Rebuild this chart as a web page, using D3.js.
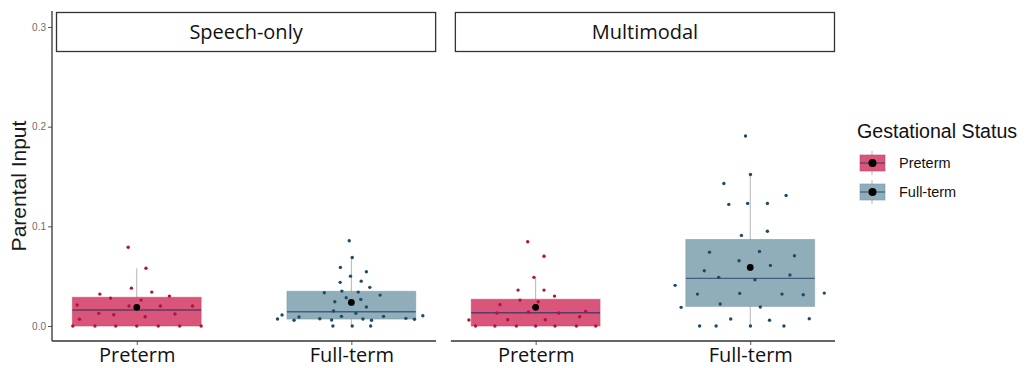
<!DOCTYPE html>
<html>
<head>
<meta charset="utf-8">
<script src="https://cdn.jsdelivr.net/npm/d3@7"></script>
<style>
  body { margin: 0; background: #fff; }
  svg { display: block; }
</style>
</head>
<body>
<svg id="chart" width="1027" height="368"></svg>
<script>
// facets, groups and ticks
var conditions = ["Speech-only", "Multimodal"];
var groups = ["Preterm", "Full-term"];
var yTicks = [0, 0.1, 0.2, 0.3];

// box stats: [q1, median, q3, whiskerLow, whiskerHigh, mean]
var speechPretermBox  = [0, 0.016, 0.0288, 0, 0.058, 0.0187];
var speechFulltermBox = [0.007, 0.0143, 0.0348, 0, 0.0688, 0.0237];
var multiPretermBox   = [0, 0.0133, 0.0268, 0, 0.0488, 0.0187];
var multiFulltermBox  = [0.0197, 0.0478, 0.0868, 0, 0.152, 0.0588];

// jittered points (value, horizontal jitter in category steps)
var speechPretermValues = [0.079, 0.058, 0.038, 0.034, 0.032, 0.028, 0.030, 0.026, 0.021, 0.020, 0.020, 0.020,
  0.0127, 0.0113, 0.012, 0.0093, 0.0067, 0, 0, 0, 0, 0, 0, 0];
var speechPretermJitter = [-0.040, 0.043, -0.025, 0.070, -0.172, -0.122, 0.152, 0.020, -0.278, -0.036, 0.110, 0.260,
  -0.177, -0.107, 0.178, 0.039, -0.267, -0.298, -0.195, -0.098, 0, 0.10, 0.20, 0.30];

var speechFulltermValues = [0.0855, 0.0688, 0.0588, 0.0544, 0.050, 0.045, 0.0438, 0.0388, 0.035, 0.034, 0.0334, 0.031,
  0.0284, 0.0267, 0.0244, 0.019, 0.015, 0.0127, 0.011, 0.0103, 0.0097, 0.009, 0.0097, 0.007, 0.0057, 0.0073,
  0.006, 0.007, 0.0057, 0.0077, 0.0067, 0, 0, 0];
var speechFulltermJitter = [-0.010, 0.004, -0.051, 0.070, -0.004, 0.046, -0.052, 0.086, -0.044, 0.032, -0.126, 0.134,
  -0.024, 0.044, -0.077, 0.070, -0.083, 0.021, -0.323, 0.333, -0.046, -0.244, 0.150, -0.344, -0.267, -0.147,
  -0.092, 0.054, 0.094, 0.254, 0.294, -0.086, 0.004, 0.090];

var multiPretermValues = [0.0845, 0.070, 0.0488, 0.036, 0.036, 0.030, 0.026, 0.0214, 0.0244, 0.013, 0.014, 0.013,
  0.0147, 0.0093, 0.0063, 0.0063, 0.006, 0, 0, 0, 0, 0, 0, 0];
var multiPretermJitter = [-0.037, 0.039, -0.008, -0.082, 0.039, 0.088, -0.073, -0.166, 0.012, -0.181, -0.034, 0.108,
  0.233, 0.205, -0.130, 0.045, -0.311, -0.28, -0.19, -0.09, 0, 0.09, 0.19, 0.28];

var multiFulltermValues = [0.1907, 0.152, 0.143, 0.131, 0.122, 0.123, 0.123, 0.095, 0.0909, 0.0741, 0.0748, 0.0705,
  0.0655, 0.0608, 0.0554, 0.0511, 0.0488, 0.0464, 0.0408, 0.032, 0.0327, 0.032, 0.0314, 0.033, 0.022, 0.019,
  0.0187, 0.007, 0.0057, 0.0073, 0, 0, 0, 0];
var multiFulltermJitter = [-0.022, 0.001, -0.123, 0.167, -0.100, -0.012, 0.080, 0.080, -0.041, -0.190, 0.043, 0.206,
  -0.052, 0.094, -0.214, 0.185, -0.147, 0.022, -0.350, -0.246, -0.049, 0.148, 0.247, 0.345, -0.140, 0.047,
  -0.322, -0.091, 0.090, 0.275, -0.236, -0.159, 0.001, 0.157];

var fillColor = { "Preterm": "#d9557a", "Full-term": "#90adba" };
var pointColor = { "Preterm": "#b3123f", "Full-term": "#1f4b66" };
var medianColor = { "Preterm": "#5e3a66", "Full-term": "#3f5f80" };

var cells = [
  { cond: "Speech-only", group: "Preterm", box: speechPretermBox, values: speechPretermValues, jitter: speechPretermJitter },
  { cond: "Speech-only", group: "Full-term", box: speechFulltermBox, values: speechFulltermValues, jitter: speechFulltermJitter },
  { cond: "Multimodal", group: "Preterm", box: multiPretermBox, values: multiPretermValues, jitter: multiPretermJitter },
  { cond: "Multimodal", group: "Full-term", box: multiFulltermBox, values: multiFulltermValues, jitter: multiFulltermJitter }
];

var svg = d3.select("#chart");

// layout
var plotLeft = 52, plotRight = 835, plotTop = 11, plotBottom = 341;
var facet = d3.scaleBand().domain(conditions).range([plotLeft, plotRight]).paddingInner(0.037);
var x = d3.scalePoint().domain(groups).range([0, facet.bandwidth()]).padding(0.395);
var step = x.step();
var boxWidth = 0.6 * step;

var y = d3.scaleLinear().domain([0, 0.3]).range([326, 27]);

// y axis
var yAxis = svg.append("g")
    .attr("transform", "translate(" + plotLeft + ",0)")
    .call(d3.axisLeft(y).tickValues(yTicks).tickFormat(d3.format(".1f")).tickSize(4).tickPadding(2));
yAxis.select(".domain").remove();
yAxis.selectAll(".tick line").attr("stroke", "#555");
yAxis.selectAll(".tick text")
    .attr("fill", "#6e6e6e")
    .style("font-family", "Liberation Sans, Arial, sans-serif")
    .style("font-size", "10px");
svg.append("line")
    .attr("x1", plotLeft).attr("x2", plotLeft)
    .attr("y1", plotTop).attr("y2", plotBottom)
    .attr("stroke", "#333").attr("stroke-width", 1.3);

svg.append("text")
    .attr("transform", "translate(26," + ((plotTop + plotBottom) / 2 + 10) + ") rotate(-90)")
    .attr("text-anchor", "middle")
    .style("font-family", "Liberation Sans, Arial, sans-serif")
    .style("font-size", "21px")
    .attr("fill", "#1a1a1a")
    .text("Parental Input");

// panels
conditions.forEach(function (cond) {
    var px = facet(cond);
    var g = svg.append("g").attr("transform", "translate(" + px + ",0)");

    // x axis
    var xa = g.append("g")
        .attr("transform", "translate(0," + plotBottom + ")")
        .call(d3.axisBottom(x).tickSize(4).tickPadding(3));
    xa.select(".domain").remove();
    xa.selectAll(".tick line").attr("stroke", "#555");
    xa.selectAll(".tick text")
        .attr("fill", "#111")
        .style("font-family", "Open Sans, sans-serif")
        .style("font-size", "20px");
    g.append("line")
        .attr("x1", 0).attr("x2", facet.bandwidth())
        .attr("y1", plotBottom).attr("y2", plotBottom)
        .attr("stroke", "#333").attr("stroke-width", 1.3);

    var data = cells.filter(function (c) { return c.cond === cond; });

    // whiskers
    g.selectAll(".whisker")
        .data(data)
        .enter()
        .append("line")
        .attr("x1", function (d) { return x(d.group); })
        .attr("x2", function (d) { return x(d.group); })
        .attr("y1", function (d) { return y(d.box[3]); })
        .attr("y2", function (d) { return y(d.box[4]); })
        .attr("stroke", "#b5b5b5")
        .attr("stroke-width", 1);

    // boxes
    g.selectAll(".box")
        .data(data)
        .enter()
        .append("rect")
        .attr("x", function (d) { return x(d.group) - boxWidth / 2; })
        .attr("y", function (d) { return y(d.box[2]); })
        .attr("width", boxWidth)
        .attr("height", function (d) { return y(d.box[0]) - y(d.box[2]); })
        .attr("fill", function (d) { return fillColor[d.group]; })
        .attr("stroke", function (d) { return d3.color(fillColor[d.group]).darker(0.3); })
        .attr("stroke-opacity", 0.6)
        .attr("stroke-width", 1);

    // medians
    g.selectAll(".median")
        .data(data)
        .enter()
        .append("line")
        .attr("x1", function (d) { return x(d.group) - boxWidth / 2; })
        .attr("x2", function (d) { return x(d.group) + boxWidth / 2; })
        .attr("y1", function (d) { return y(d.box[1]); })
        .attr("y2", function (d) { return y(d.box[1]); })
        .attr("stroke", function (d) { return medianColor[d.group]; })
        .attr("stroke-width", 1.4);

    // jittered points
    data.forEach(function (d) {
        g.selectAll(null)
            .data(d.values)
            .enter()
            .append("circle")
            .attr("cx", function (v, i) { return x(d.group) + d.jitter[i] * step; })
            .attr("cy", function (v) { return y(v); })
            .attr("r", 1.7)
            .attr("fill", pointColor[d.group]);
    });

    // means
    g.selectAll(".mean")
        .data(data)
        .enter()
        .append("circle")
        .attr("cx", function (d) { return x(d.group); })
        .attr("cy", function (d) { return y(d.box[5]); })
        .attr("r", 3.4)
        .attr("fill", "#000");

    // strip
    g.append("rect")
        .attr("x", 4.5).attr("y", 12.5)
        .attr("width", facet.bandwidth() - 5).attr("height", 39)
        .attr("fill", "#fff")
        .attr("stroke", "#333").attr("stroke-width", 1.3);
    g.append("text")
        .attr("x", 2 + facet.bandwidth() / 2).attr("y", 39)
        .attr("text-anchor", "middle")
        .style("font-family", "Open Sans, sans-serif")
        .style("font-size", "20px")
        .attr("fill", "#111")
        .text(cond);
});

// legend
var legend = svg.append("g").attr("transform", "translate(857,0)");
legend.append("text")
    .attr("x", 0).attr("y", 138)
    .style("font-family", "Liberation Sans, Arial, sans-serif")
    .style("font-size", "19.6px")
    .attr("fill", "#111")
    .text("Gestational Status");

var keys = legend.selectAll(".key")
    .data(groups)
    .enter()
    .append("g")
    .attr("transform", function (d, i) { return "translate(0," + (163 + i * 29) + ")"; });
keys.append("line")
    .attr("x1", 15).attr("x2", 15).attr("y1", -12).attr("y2", 12)
    .attr("stroke", "#b5b5b5");
keys.append("rect")
    .attr("x", 3).attr("y", -8).attr("width", 25).attr("height", 16)
    .attr("fill", function (d) { return fillColor[d]; })
    .attr("stroke", function (d) { return d3.color(fillColor[d]).darker(0.3); })
    .attr("stroke-opacity", 0.6);
keys.append("line")
    .attr("x1", 3).attr("x2", 28).attr("y1", 0).attr("y2", 0)
    .attr("stroke", function (d) { return medianColor[d]; })
    .attr("stroke-width", 1.2);
keys.append("circle")
    .attr("cx", 15.5).attr("cy", 0).attr("r", 4)
    .attr("fill", "#000");
keys.append("text")
    .attr("x", 42).attr("y", 5)
    .style("font-family", "Liberation Sans, Arial, sans-serif")
    .style("font-size", "14.5px")
    .attr("fill", "#111")
    .text(function (d) { return d; });
</script>
</body>
</html>
